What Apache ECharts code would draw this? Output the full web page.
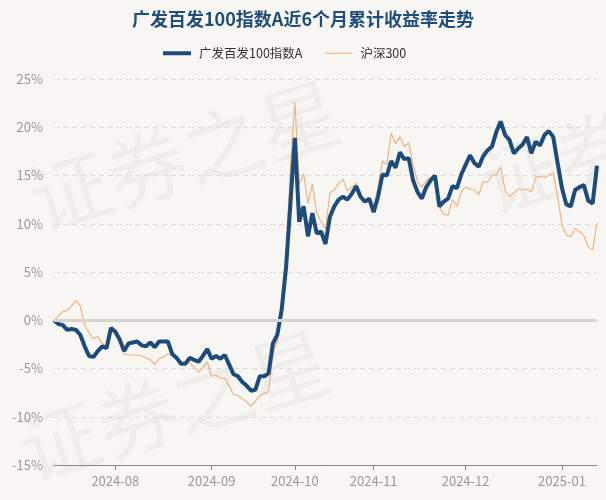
<!DOCTYPE html>
<html>
<head>
<meta charset="utf-8">
<script src="https://cdn.jsdelivr.net/npm/echarts@6/dist/echarts.min.js"></script>
<style>
  html, body { margin: 0; padding: 0; background: #f8f6f2; }
  #chart { width: 606px; height: 500px; }
</style>
</head>
<body>
<div id="chart"></div>
<script>
// 交易日
const dates = [
  '2024-07-12', '2024-07-15', '2024-07-16', '2024-07-17', '2024-07-18', '2024-07-19',
  '2024-07-22', '2024-07-23', '2024-07-24', '2024-07-25', '2024-07-26',
  '2024-07-29', '2024-07-30', '2024-07-31',
  '2024-08-01', '2024-08-02', '2024-08-05', '2024-08-06', '2024-08-07', '2024-08-08', '2024-08-09',
  '2024-08-12', '2024-08-13', '2024-08-14', '2024-08-15', '2024-08-16',
  '2024-08-19', '2024-08-20', '2024-08-21', '2024-08-22', '2024-08-23',
  '2024-08-26', '2024-08-27', '2024-08-28', '2024-08-29', '2024-08-30',
  '2024-09-02', '2024-09-03', '2024-09-04', '2024-09-05', '2024-09-06',
  '2024-09-09', '2024-09-10', '2024-09-11', '2024-09-12', '2024-09-13',
  '2024-09-18', '2024-09-19', '2024-09-20',
  '2024-09-23', '2024-09-24', '2024-09-25', '2024-09-26', '2024-09-27', '2024-09-30',
  '2024-10-08', '2024-10-09', '2024-10-10', '2024-10-11',
  '2024-10-14', '2024-10-15', '2024-10-16', '2024-10-17', '2024-10-18',
  '2024-10-21', '2024-10-22', '2024-10-23', '2024-10-24', '2024-10-25',
  '2024-10-28', '2024-10-29', '2024-10-30', '2024-10-31',
  '2024-11-01', '2024-11-04', '2024-11-05', '2024-11-06', '2024-11-07', '2024-11-08',
  '2024-11-11', '2024-11-12', '2024-11-13', '2024-11-14', '2024-11-15',
  '2024-11-18', '2024-11-19', '2024-11-20', '2024-11-21', '2024-11-22',
  '2024-11-25', '2024-11-26', '2024-11-27', '2024-11-28', '2024-11-29',
  '2024-12-02', '2024-12-03', '2024-12-04', '2024-12-05', '2024-12-06',
  '2024-12-09', '2024-12-10', '2024-12-11', '2024-12-12', '2024-12-13',
  '2024-12-16', '2024-12-17', '2024-12-18', '2024-12-19', '2024-12-20',
  '2024-12-23', '2024-12-24', '2024-12-25', '2024-12-26', '2024-12-27',
  '2024-12-30', '2024-12-31',
  '2025-01-02', '2025-01-03', '2025-01-06', '2025-01-07', '2025-01-08', '2025-01-09', '2025-01-10',
  '2025-01-13', '2025-01-14'
]

// 广发百发100指数A 累计收益率(%)
const fundReturn = [
  0, -0.4, -0.5, -1.0, -0.9, -1.0, -1.5, -2.7, -3.7, -3.8,
  -3.2, -2.7, -2.9, -0.8, -1.2, -2.0, -3.2, -2.4, -2.3, -2.2,
  -2.6, -2.7, -2.3, -2.8, -2.2, -2.2, -2.2, -3.5, -3.9, -4.5,
  -4.5, -3.9, -4.1, -4.3, -3.7, -3.0, -4.0, -3.7, -4.0, -3.6,
  -4.6, -5.6, -5.8, -6.4, -6.8, -7.3, -7.2, -5.8, -5.8, -5.5,
  -2.4, -1.5, 1.1, 5.5, 12.2, 18.9, 10.2, 11.8, 8.7, 11.1,
  9.0, 9.2, 7.9, 10.7, 11.8, 12.5, 12.8, 12.5, 13.1, 13.9,
  12.8, 12.3, 12.6, 11.2, 12.8, 15.1, 15.0, 16.5, 15.8, 17.4,
  16.7, 16.8, 14.5, 13.3, 12.6, 13.8, 14.5, 15.0, 11.8, 12.3,
  12.6, 13.9, 13.7, 15.1, 16.1, 17.1, 16.3, 15.9, 17.0, 17.6,
  18.0, 19.5, 20.6, 19.2, 18.7, 17.3, 17.8, 18.2, 19.0, 17.3,
  18.5, 18.1, 19.2, 19.6, 19.0, 16.3, 13.7, 12.0, 11.8, 13.5,
  13.8, 14.0, 12.4, 12.1, 16.0
]

// 沪深300 累计收益率(%)
const hs300Return = [
  0, 0.4, 0.9, 1.0, 1.5, 2.0, 1.5, -0.5, -1.3, -1.9,
  -1.7, -2.4, -2.7, -0.9, -1.3, -2.2, -3.5, -3.6, -3.6, -3.6,
  -3.7, -3.9, -4.1, -4.6, -4.0, -3.8, -3.5, -3.7, -4.1, -4.5,
  -4.3, -4.4, -4.9, -5.4, -4.9, -4.3, -5.8, -5.7, -6.0, -6.0,
  -6.8, -7.7, -7.8, -8.1, -8.5, -8.9, -8.4, -7.8, -7.6, -7.4,
  -3.4, -2.1, 2.4, 6.8, 15.9, 22.6, 14.1, 15.2, 12.1, 14.1,
  11.1, 10.2, 9.4, 13.2, 13.5, 14.2, 14.6, 13.4, 13.8, 14.2,
  13.0, 12.3, 12.1, 11.8, 13.8, 16.5, 16.1, 19.4, 18.3, 19.0,
  18.0, 18.4, 16.1, 14.4, 13.8, 14.5, 14.8, 14.9, 11.7, 11.0,
  10.9, 12.5, 11.8, 13.3, 13.8, 13.6, 13.5, 13.0, 14.4, 14.3,
  15.0, 15.1, 15.9, 13.5, 12.8, 13.2, 13.6, 13.5, 13.6, 13.3,
  14.8, 14.9, 14.8, 15.0, 15.3, 12.8, 9.9, 8.8, 8.7, 9.5,
  9.2, 8.8, 7.6, 7.3, 10.1
]

const seriesNames = ['广发百发100指数A', '沪深300']
const fundColor = '#1c4b7c'
const hs300Color = '#f0b483'
const font = '"Noto Sans CJK SC", "Noto Sans", sans-serif'

// 每月第一个交易日显示标签
function isMonthStart(index) {
  if (index === 0) return false
  return dates[index].slice(0, 7) !== dates[index - 1].slice(0, 7)
}

const myChart = echarts.init(document.getElementById('chart'))
myChart.setOption({
  backgroundColor: '#f8f6f2',
  animation: false,
  textStyle: { fontFamily: font },
  title: {
    text: '广发百发100指数A近6个月累计收益率走势',
    left: 'center',
    top: 5,
    textStyle: { color: '#1f4e7d', fontSize: 18, fontWeight: 'bold', fontFamily: font }
  },
  graphic: [
    {
      type: 'text', left: 20, top: 70, rotation: 0.3, silent: true, z: -1,
      style: { text: '证券之星', fontSize: 80, fill: 'rgba(0,0,0,0.035)', fontFamily: font }
    },
    {
      type: 'text', left: 10, top: 320, rotation: 0.3, silent: true, z: -1,
      style: { text: '证券之星', fontSize: 80, fill: 'rgba(0,0,0,0.035)', fontFamily: font }
    },
    {
      type: 'text', left: 470, top: 100, rotation: 0.3, silent: true, z: -1,
      style: { text: '证券', fontSize: 80, fill: 'rgba(0,0,0,0.035)', fontFamily: font }
    }
  ],
  legend: {
    data: [
      { name: seriesNames[0], icon: 'path://M0,0H28V4H0Z', itemStyle: { color: fundColor } },
      { name: seriesNames[1], icon: 'path://M0,0H28V1H0Z', itemStyle: { color: hs300Color } }
    ],
    top: 42,
    left: 158,
    itemWidth: 28,
    itemHeight: 12,
    itemGap: 22,
    symbolKeepAspect: true,
    textStyle: { color: '#333', fontSize: 12.5, fontFamily: font, padding: [0, 0, 0, 3] }
  },
  grid: {
    left: 54,
    right: 9,
    top: 79,
    bottom: 35
  },
  xAxis: {
    type: 'category',
    boundaryGap: false,
    data: dates,
    axisLine: { onZero: false, lineStyle: { color: '#888', width: 1 } },
    axisTick: {
      interval: function (index) { return isMonthStart(index) },
      length: 5,
      lineStyle: { color: '#888' }
    },
    axisLabel: {
      interval: function (index) { return isMonthStart(index) },
      formatter: function (value) { return value.slice(0, 7) },
      color: '#999',
      fontSize: 13,
      margin: 10
    },
    splitLine: { show: false }
  },
  yAxis: {
    type: 'value',
    min: -15,
    max: 25,
    interval: 5,
    axisLine: { show: false },
    axisTick: { show: false },
    axisLabel: {
      formatter: '{value}%',
      color: '#999',
      fontSize: 13,
      margin: 11
    },
    splitLine: { lineStyle: { color: '#dcdad6', type: [5, 4], width: 1 } }
  },
  series: [
    {
      name: seriesNames[1],
      type: 'line',
      data: hs300Return,
      symbol: 'none',
      lineStyle: { color: hs300Color, width: 1.2 },
      itemStyle: { color: hs300Color },
      z: 2,
      markLine: {
        silent: true,
        symbol: 'none',
        label: { show: false },
        lineStyle: { color: '#d6d4d0', width: 3, type: 'solid' },
        data: [{ yAxis: 0 }]
      }
    },
    {
      name: seriesNames[0],
      type: 'line',
      data: fundReturn,
      symbol: 'none',
      lineStyle: { color: fundColor, width: 4 },
      itemStyle: { color: fundColor },
      z: 3
    }
  ]
})
</script>
</body>
</html>
